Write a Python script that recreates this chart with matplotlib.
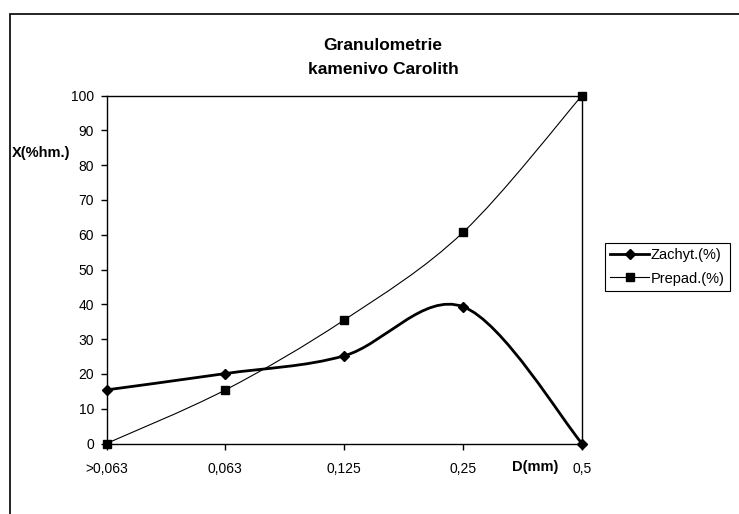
import matplotlib
matplotlib.use("Agg")
import matplotlib.pyplot as plt
from matplotlib.path import Path
from matplotlib.patches import PathPatch, Rectangle
from matplotlib.lines import Line2D

plt.rcParams['font.family'] = ['Liberation Sans', 'DejaVu Sans']

# data
kategorie = [">0,063", "0,063", "0,125", "0,25", "0,5"]
zachyt = [15.4, 20.1, 25.2, 39.3, 0.0]
prepad = [0.0, 15.4, 35.5, 60.7, 100.0]
y_ticks = [0, 10, 20, 30, 40, 50, 60, 70, 80, 90, 100]


def smooth_path(xs, ys):
    # Excel-like smoothed line: cubic bezier segments through the points
    pts = list(zip(xs, ys))
    verts = [pts[0]]
    codes = [Path.MOVETO]
    n = len(pts)
    for i in range(n - 1):
        p0 = pts[i - 1] if i > 0 else pts[i]
        p1 = pts[i]
        p2 = pts[i + 1]
        p3 = pts[i + 2] if i + 2 < n else pts[i + 1]
        c1 = (p1[0] + (p2[0] - p0[0]) / 6, p1[1] + (p2[1] - p0[1]) / 6)
        c2 = (p2[0] - (p3[0] - p1[0]) / 6, p2[1] - (p3[1] - p1[1]) / 6)
        verts += [c1, c2, p2]
        codes += [Path.CURVE4] * 3
    return Path(verts, codes)


W, H = 739, 514
fig = plt.figure(figsize=(W / 100, H / 100), dpi=100)
ax = fig.add_axes([106.5 / W, 1 - 443.5 / H, (582 - 106.5) / W, (443.5 - 95.5) / H])

x = list(range(len(kategorie)))

ax.add_patch(PathPatch(smooth_path(x, prepad), fill=False, lw=0.8, edgecolor='black', zorder=3))
ax.add_patch(PathPatch(smooth_path(x, zachyt), fill=False, lw=2.0, edgecolor='black', zorder=3))
ax.plot(x, zachyt, ls='none', marker='D', ms=5.5, color='black', zorder=4, clip_on=False)
ax.plot(x, prepad, ls='none', marker='s', ms=6, color='black', zorder=4, clip_on=False)

ax.set_xlim(0, len(kategorie) - 1)
ax.set_ylim(0, 100)
ax.set_xticks(x)
ax.set_xticklabels(kategorie)
ax.set_yticks(y_ticks)
ax.tick_params(axis='both', direction='out', length=4, width=1, labelsize=10, colors='black')
ax.tick_params(axis='x', pad=9)
ax.tick_params(axis='y', pad=5)
for s in ax.spines.values():
    s.set_linewidth(1.0)
    s.set_color('black')

# texts
fig.text(383 / W, 1 - 45 / H, "Granulometrie", ha='center', va='center', fontsize=12.5, fontweight='bold')
fig.text(383 / W, 1 - 70 / H, "kamenivo Carolith", ha='center', va='center', fontsize=12.5, fontweight='bold')
fig.text(12 / W, 1 - 153 / H, "X(%hm.)", ha='left', va='center', fontsize=10.5, fontweight='bold')
fig.text(512 / W, 1 - 467 / H, "D(mm)", ha='left', va='center', fontsize=10.5, fontweight='bold')

# legend
handles = [
    Line2D([], [], color='black', lw=2.0, marker='D', ms=5.5),
    Line2D([], [], color='black', lw=0.8, marker='s', ms=6),
]
leg = fig.legend(handles, ["Zachyt.(%)", "Prepad.(%)"], loc='upper left',
                 bbox_to_anchor=(605 / W, 1 - 243 / H), fontsize=10.5, frameon=True,
                 fancybox=False, edgecolor='black', framealpha=1,
                 borderpad=0.35, handlelength=2.7, handletextpad=0.1,
                 labelspacing=0.65, borderaxespad=0)
leg.get_frame().set_linewidth(0.8)

# chart border
fig.patches.append(Rectangle((9.5 / W, -0.2), 1.2, 1.2 - 14 / H, transform=fig.transFigure,
                             fill=False, edgecolor='black', lw=1.2))

fig.savefig("out.png", dpi=100)
